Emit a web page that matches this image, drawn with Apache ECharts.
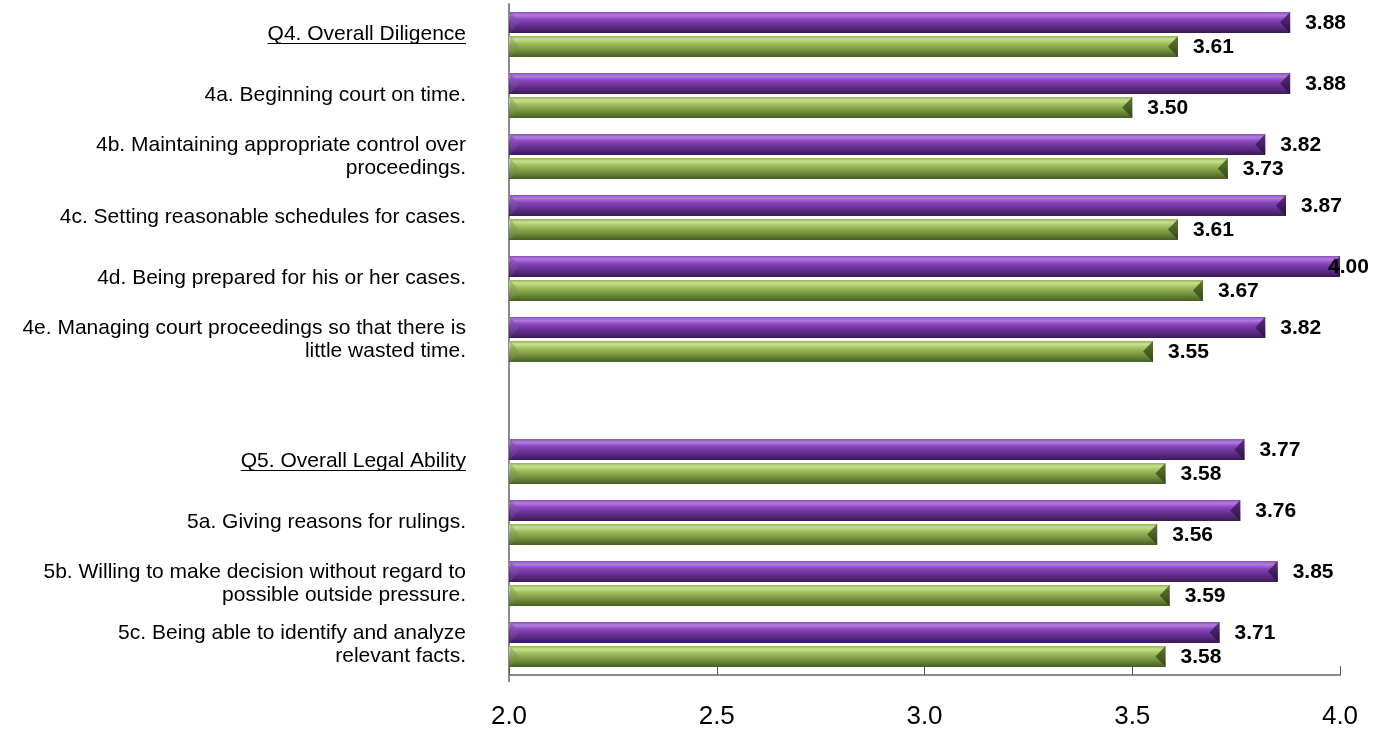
<!DOCTYPE html>
<html><head><meta charset="utf-8">
<script src="https://cdn.jsdelivr.net/npm/echarts@6/dist/echarts.min.js"></script>
<style>html,body{margin:0;padding:0;background:#fff}#c{width:1390px;height:732px}</style>
</head><body><div id="c"></div>
<script>
const categories = [
  'Q4. Overall Diligence',
  '4a. Beginning court on time.',
  '4b. Maintaining appropriate control over\nproceedings.',
  '4c. Setting reasonable schedules for cases.',
  '4d. Being prepared for his or her cases.',
  '4e. Managing court proceedings so that there is\nlittle wasted time.',
  '',
  'Q5. Overall Legal Ability',
  '5a. Giving reasons for rulings.',
  '5b. Willing to make decision without regard to\npossible outside pressure.',
  '5c. Being able to identify and analyze\nrelevant facts.'
];
const underlined = ['Q4. Overall Diligence', 'Q5. Overall Legal Ability'];
const purpleValues = [3.88, 3.88, 3.82, 3.87, 4.00, 3.82, null, 3.77, 3.76, 3.85, 3.71];
const greenValues  = [3.61, 3.50, 3.73, 3.61, 3.67, 3.55, null, 3.58, 3.56, 3.59, 3.58];
const xTicks = { min: 2.0, max: 4.0, interval: 0.5 };

const font = '"Liberation Sans", Arial, sans-serif';
const BAR_W = 21, HALF_GAP = 1.5;

function grad(stops){ return new echarts.graphic.LinearGradient(0,0,0,1,stops.map(c=>({offset:c[0],color:c[1]}))); }
const purpleGrad = grad([[0,'#8a4fb8'],[0.15,'#b27ede'],[0.35,'#8a46bc'],[0.6,'#6a3196'],[0.85,'#4d2470'],[1,'#3a1a55']]);
const greenGrad  = grad([[0,'#94b258'],[0.15,'#c8e08e'],[0.35,'#a0c060'],[0.6,'#7f9c44'],[0.85,'#5a7530'],[1,'#465c24']]);
const caps = {
  purple: {right: grad([[0,'#5e2c88'],[1,'#2a1040']]), left: grad([[0,'#9a62c8'],[1,'#5a2a80']])},
  green:  {right: grad([[0,'#5e7a30'],[1,'#33461a']]), left: grad([[0,'#a8c46c'],[1,'#5e7a32']])}
};

function capData(vals){ return vals.map((v,i) => v === null ? [NaN, i] : [v, i]); }

function capRenderer(which, upper){
  return function(params, api){
    const v = api.value(0);
    if (isNaN(v)) return;
    const cat = api.value(1);
    const pe = api.coord([v, cat]);
    const ps = api.coord([xTicks.min, cat]);
    const c = pe[1];
    const y0 = upper ? c - HALF_GAP - BAR_W : c + HALF_GAP;
    const y1 = y0 + BAR_W, ym = (y0 + y1) / 2;
    const xe = pe[0], xs = ps[0] + 1;
    const lx = v >= xTicks.max ? xe - 12 : xe + 15;
    return {type: 'group', children: [
      {type: 'polygon', shape: {points: [[xe, y0], [xe, y1], [xe - 10, ym]]}, style: {fill: caps[which].right}},
      {type: 'polygon', shape: {points: [[xs, y0], [xs, y1], [xs + 9, ym]]}, style: {fill: caps[which].left, opacity: 0.85}},
      {type: 'text', z2: 10, x: lx, y: ym + 1, style: {text: v.toFixed(2), fill: '#000', font: 'bold 21px ' + font,
        textAlign: 'left', textVerticalAlign: 'middle', verticalAlign: 'middle'}}
    ]};
  };
}

const chart = echarts.init(document.getElementById('c'));
chart.setOption({
  animation: false,
  grid: {left: 509, right: 50, top: 4, bottom: 57, containLabel: false},
  xAxis: {
    type: 'value', min: xTicks.min, max: xTicks.max, interval: xTicks.interval,
    axisLine: {show: true, lineStyle: {color: '#8c8c8c', width: 2}},
    axisTick: {show: true, inside: true, length: 9, lineStyle: {color: '#555', width: 1}},
    splitLine: {show: false},
    axisLabel: {fontSize: 26, color: '#000', fontFamily: font, margin: 29,
      formatter: v => v.toFixed(1)}
  },
  yAxis: {
    type: 'category', data: categories, inverse: true,
    axisLine: {show: true, lineStyle: {color: '#8c8c8c', width: 2}},
    axisTick: {show: false},
    axisLabel: {fontSize: 21, color: '#000', fontFamily: font, margin: 43, lineHeight: 23, align: 'right'}
  },
  series: [
    {name: 'purple', type: 'bar', data: purpleValues, barWidth: BAR_W, barGap: (HALF_GAP*2/BAR_W*100) + '%',
      itemStyle: {color: purpleGrad}, z: 1},
    {name: 'green', type: 'bar', data: greenValues, barWidth: BAR_W,
      itemStyle: {color: greenGrad}, z: 1},
    {type: 'custom', data: capData(purpleValues), encode: {x: 0, y: 1}, renderItem: capRenderer('purple', true), z: 3, silent: true},
    {type: 'custom', data: capData(greenValues), encode: {x: 0, y: 1}, renderItem: capRenderer('green', false), z: 3, silent: true}
  ]
});

// underline for section headers
const cv = document.createElement('canvas').getContext('2d');
cv.font = '21px ' + font;
const lines = [];
underlined.forEach(name => {
  const y = chart.convertToPixel({yAxisIndex: 0}, name);
  const w = cv.measureText(name).width;
  const right = 509 - 43;
  lines.push({type: 'line', shape: {x1: right - w, y1: y + 9, x2: right, y2: y + 9},
    style: {stroke: '#000', lineWidth: 1}, silent: true});
});
lines.push({type: 'line', shape: {x1: 509, y1: 675, x2: 509, y2: 682}, style: {stroke: '#8c8c8c', lineWidth: 2}, silent: true});
chart.setOption({graphic: lines});
</script></body></html>
